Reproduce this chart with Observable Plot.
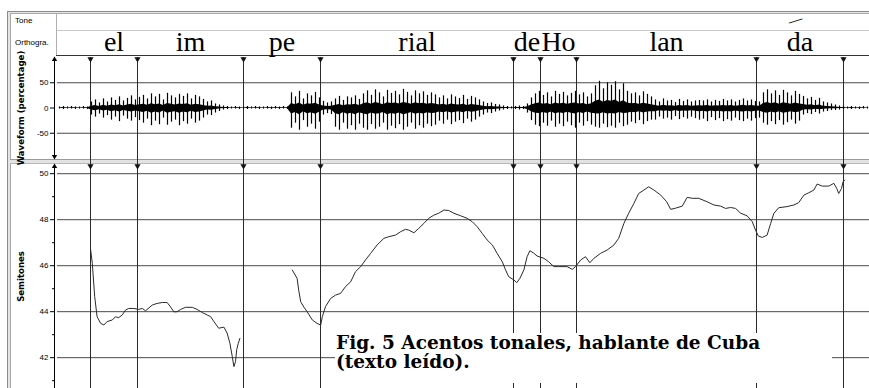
<!DOCTYPE html>
<html>
<head>
<meta charset="utf-8">
<script src="https://cdn.jsdelivr.net/npm/d3@7"></script>
<script src="https://cdn.jsdelivr.net/npm/@observablehq/plot@0.6"></script>
<style>
  body { margin: 0; background: #fff; }
  #wrap { position: relative; width: 869px; height: 388px; overflow: hidden; background: #fff; font-family: "Liberation Sans", Arial, sans-serif; }
  .abs { position: absolute; }
  .plotbox { position: absolute; left: 0; }
  .tierlabel { position: absolute; left: 15px; font-size: 8px; color: #000; }
  #caption { position: absolute; left: 335px; top: 333px; width: 497px; height: 50px; background: #fff;
             font-family: "DejaVu Serif", "Liberation Serif", serif; font-weight: bold; font-size: 18.5px; line-height: 19px; color: #000; white-space: nowrap; }
  #caption div { padding-left: 1px; }
</style>
</head>
<body>
<div id="wrap"></div>
<script>
// ---------------- data ----------------
const timeDomainMs = [0, 2030];
// segment boundaries (ms)
const boundariesMs = [82.5, 200, 465, 657.5, 1140, 1207.5, 1297.5, 1747.5, 1965];
// orthographic tier labels, one per interval between boundaries
const syllables = ["el", "im", "pe", "rial", "de", "Ho", "lan", "da"];
// tone tier: one rising mark
const toneMarksMs = [1840];
const tierNames = ["Tone", "Orthogra."];

// waveform ticks and gridlines (percentage)
const waveTicks = [50, 0, -50];
const waveGrid = [50, -50];
// pitch ticks (semitones)
const pitchTicks = [50, 48, 46, 44, 42];
const pitchMinorTicks = [49, 47, 45, 43, 41];

// waveform peak envelope, one bin every 10 ms
const waveBinMs = 10;
const waveMax = [
  2,3,2,3,2,2,3,2,
  12,16,10,
  18,12,20,15,22,14,19,24,16,21,
  25,18,28,22,27,16,29,24,20,27,23,28,18,25,22,
  17,12,14,8,6,4,
  3,2,3,2,2,3,2,3,2,2,3,2,3,2,3,2,
  30,22,33,18,28,24,31,20,
  13,10,12,
  18,23,15,22,20,24,17,
  28,34,25,36,30,22,35,29,33,26,37,31,24,34,28,32,25,30,
  26,20,24,18,26,22,19,25,17,23,20,16,
  12,9,10,7,6,4,
  3,2,3,4,3,
  8,20,28,33,25,30,22,33,27,31,24,29,33,26,30,22,28,
  44,53,38,50,45,52,36,48,
  33,28,30,24,32,27,22,
  16,12,18,14,15,11,17,13,16,12,14,15,
  14,16,12,15,13,17,14,16,12,15,18,14,16,13,12,
  30,36,28,34,25,35,30,24,33,27,
  23,18,21,15,19,12,10,8,
  6,4,3,
  2,3,2,2,3,2
];
const waveMin = [
  -2,-3,-2,-2,-3,-2,-2,-3,
  -14,-18,-12,
  -20,-15,-24,-18,-27,-16,-22,-26,-19,-25,
  -30,-22,-35,-26,-33,-20,-34,-28,-24,-35,-27,-32,-22,-30,-26,
  -20,-14,-15,-10,-7,-4,
  -3,-2,-2,-3,-2,-3,-2,-2,-3,-2,-2,-3,-2,-3,-2,-3,
  -40,-30,-44,-25,-38,-32,-42,-28,
  -14,-11,-13,
  -38,-44,-30,-42,-35,-44,-32,
  -40,-44,-33,-42,-38,-30,-44,-36,-41,-33,-44,-38,-30,-42,-35,-40,-32,-37,
  -34,-26,-32,-24,-33,-28,-25,-31,-22,-28,-24,-18,
  -14,-10,-11,-8,-6,-4,
  -3,-2,-3,-4,-3,
  -10,-25,-34,-37,-30,-36,-26,-38,-32,-37,-28,-35,-40,-30,-36,-27,-34,
  -38,-40,-32,-39,-36,-40,-30,-37,
  -34,-28,-31,-25,-33,-27,-24,
  -24,-18,-22,-20,-24,-17,-23,-19,-22,-18,-21,-24,
  -22,-27,-19,-25,-21,-27,-23,-26,-20,-25,-27,-22,-26,-21,-20,
  -30,-34,-27,-33,-25,-34,-29,-24,-32,-26,
  -14,-11,-13,-9,-12,-8,-7,-5,
  -5,-4,-3,
  -2,-3,-2,-3,-2,-2
];

// pitch contour [time ms, semitones], two voiced stretches
const pitchSegment1 = [
  [83,46.68],[87,46.1],[93,44.65],[99,43.78],[108,43.49],[116,43.42],[124,43.57],[137,43.64],[145,43.78],[153,43.74],
  [162,43.86],[170,44.07],[178,44.14],[191,44.14],[203,44.1],[212,44.14],[220,44.04],[237,44.29],[249,44.36],[262,44.4],
  [274,44.4],[283,44.2],[291,43.99],[299,44.0],[308,44.1],[320,44.19],[337,44.19],[349,44.1],[362,43.96],[374,43.86],
  [383,43.78],[391,43.57],[403,43.28],[416,43.33],[424,43.07],[431,42.63],[437,42.04],[441,41.61],[445,41.83],[448,42.35],
  [452,42.63],[456,42.84]
];
const pitchSegment2 = [
  [587,45.81],[599,45.45],[603,44.94],[608,44.43],[616,44.2],[624,44.0],[637,43.64],[649,43.49],[658,43.42],[662,43.78],
  [670,44.22],[683,44.58],[695,44.72],[708,44.8],[720,45.09],[733,45.3],[745,45.74],[758,45.96],[770,46.25],[783,46.54],
  [799,46.9],[816,47.19],[828,47.26],[845,47.33],[858,47.48],[870,47.58],[878,47.55],[891,47.43],[903,47.62],[916,47.84],
  [928,48.06],[941,48.2],[953,48.28],[966,48.42],[978,48.4],[991,48.28],[1008,48.17],[1024,48.06],[1037,47.91],[1049,47.7],
  [1062,47.4],[1074,47.12],[1087,46.9],[1099,46.54],[1112,46.17],[1120,45.82],[1128,45.52],[1141,45.38],[1148,45.26],[1156,45.45],
  [1166,45.82],[1174,46.39],[1181,46.65],[1191,46.54],[1199,46.42],[1216,46.32],[1228,46.17],[1241,45.96],[1253,45.96],[1274,45.96],
  [1287,45.84],[1295,45.96],[1308,46.25],[1320,46.39],[1331,46.13],[1341,46.32],[1358,46.54],[1374,46.68],[1391,46.9],[1403,47.19],
  [1416,47.84],[1428,48.28],[1441,48.71],[1453,49.14],[1466,49.29],[1478,49.43],[1491,49.29],[1508,49.07],[1523,48.78],[1533,48.45],
  [1545,48.5],[1562,48.59],[1574,48.97],[1587,48.93],[1603,48.93],[1624,48.78],[1641,48.64],[1658,48.59],[1670,48.49],[1683,48.53],
  [1695,48.49],[1708,48.28],[1724,48.17],[1737,47.91],[1745,47.55],[1752,47.29],[1762,47.23],[1774,47.33],[1783,47.84],[1791,48.28],
  [1803,48.52],[1824,48.57],[1841,48.64],[1853,48.74],[1866,49.07],[1878,49.17],[1891,49.29],[1899,49.55],[1912,49.46],[1928,49.46],
  [1941,49.58],[1948,49.36],[1953,49.14],[1960,49.36],[1964,49.65],[1968,49.72]
];

const captionLines = ["Fig. 5 Acentos tonales, hablante de Cuba", "(texto leído)."];

// ---------------- layout ----------------
const wrap = document.getElementById("wrap");
function addDiv(css) {
  const d = document.createElement("div");
  d.className = "abs";
  d.style.cssText = css;
  wrap.appendChild(d);
  return d;
}
// window frame (grey 3D borders)
addDiv("left:7px;top:11px;width:862px;height:377px;background:#e4e4e4;border-left:1px solid #8a8a8a;border-top:1px solid #8a8a8a;");
addDiv("left:10px;top:13px;width:859px;height:375px;background:#fff;border-left:1px solid #a8a8a8;border-top:1px solid #a8a8a8;");
// tier grid lines
addDiv("left:56px;top:13px;width:1px;height:43px;background:#b0b0b0;");
addDiv("left:57px;top:30px;width:812px;height:1px;background:#c8c8c8;");
addDiv("left:56px;top:55px;width:813px;height:1px;background:#333;");
// separator band between the two panels
addDiv("left:10px;top:159px;width:859px;height:3px;background:#e2e2e2;border-top:1px solid #9a9a9a;border-bottom:1px solid #b8b8b8;");
// tier names
tierNames.forEach((n, i) => {
  const d = document.createElement("div");
  d.className = "tierlabel";
  d.style.top = (i === 0 ? 16 : 38) + "px";
  d.textContent = n;
  wrap.appendChild(d);
});

const commonStyle = {background: "transparent", overflow: "visible", fontFamily: "Liberation Sans, Arial, sans-serif"};
const narrowFont = "Liberation Sans Narrow, DejaVu Sans Condensed, Arial Narrow, sans-serif";

// ---- tiers plot ----
const syllableData = syllables.map((s, i) => ({label: s, start: boundariesMs[i], end: boundariesMs[i + 1]}));
const tierPlot = Plot.plot({
  width: 869, height: 56, marginLeft: 57, marginRight: 0, marginTop: 0, marginBottom: 0,
  style: commonStyle,
  x: {domain: timeDomainMs, axis: null},
  marks: [
    Plot.text(syllableData, {x: d => (d.start + d.end) / 2, text: "label", frameAnchor: "bottom", lineAnchor: "bottom",
      dy: -6, fontSize: 28, fontFamily: "Liberation Serif, Times New Roman, serif", fill: "#000"}),
    Plot.text(toneMarksMs, {x: d => d, text: () => "\u2014", frameAnchor: "top", dy: 14, rotate: -18,
      fontSize: 14, fontFamily: "Liberation Serif, serif", fill: "#000"})
  ]
});
tierPlot.classList.add("plotbox");
tierPlot.style.top = "0px";
wrap.appendChild(tierPlot);

// ---- waveform plot ----
const waveData = waveMax.map((hi, i) => ({t: i * waveBinMs + waveBinMs / 2, hi, lo: waveMin[i]}));
const wavePlot = Plot.plot({
  width: 869, height: 103, marginLeft: 57, marginRight: 0, marginTop: 1, marginBottom: 1,
  style: commonStyle,
  x: {domain: timeDomainMs, axis: null},
  y: {domain: [-100, 100]},
  marks: [
    Plot.ruleY(waveGrid, {stroke: "#4a4a4a"}),
    Plot.ruleX(boundariesMs, {stroke: "#2a2a2a", insetBottom: -6}),
    Plot.dot(boundariesMs, {x: d => d, frameAnchor: "top", symbol: "triangle", rotate: 180, r: 2.3, fill: "#111", stroke: null, dy: 1.5}),
    Plot.areaY(waveData, {x: "t", y1: d => d.lo * 0.3, y2: d => d.hi * 0.3, fill: "#000"}),
    Plot.ruleX(waveData, {x: "t", y1: "lo", y2: "hi", stroke: "#000", strokeWidth: 1.2}),
    Plot.axisY(waveTicks, {tickSize: 5, tickPadding: 2, dx: -2, fontSize: 8, tickFormat: d => String(d), label: null, stroke: "#000", fill: "#000"}),
    Plot.ruleX([timeDomainMs[0]], {dx: -3, stroke: "#000"}),
    Plot.dot([timeDomainMs[0]], {x: d => d, frameAnchor: "top", symbol: "triangle", r: 2, dx: -3, dy: 2, fill: "#000", stroke: null}),
    Plot.dot([timeDomainMs[0]], {x: d => d, frameAnchor: "bottom", symbol: "triangle", rotate: 180, r: 2, dx: -3, dy: -2, fill: "#000", stroke: null}),
    Plot.text(["Waveform (percentage)"], {frameAnchor: "left", textAnchor: "middle", dx: -37, rotate: -90, fontWeight: "bold", fontSize: 9.5, fontFamily: narrowFont, fill: "#000"})
  ]
});
wavePlot.classList.add("plotbox");
wavePlot.style.top = "56px";
wrap.appendChild(wavePlot);

// ---- pitch plot ----
const toPts = seg => seg.map(([t, st]) => ({t, st}));
const pitchPlot = Plot.plot({
  width: 869, height: 225, marginLeft: 57, marginRight: 0, marginTop: 1, marginBottom: 0,
  style: commonStyle,
  x: {domain: timeDomainMs, axis: null},
  y: {domain: [40.66, 50.40]},
  marks: [
    Plot.ruleY(pitchTicks, {stroke: "#4a4a4a"}),
    Plot.ruleX(boundariesMs, {stroke: "#2a2a2a"}),
    Plot.dot(boundariesMs, {x: d => d, frameAnchor: "top", symbol: "triangle", rotate: 180, r: 2.3, fill: "#111", stroke: null, dy: 1.5}),
    Plot.line(toPts(pitchSegment1), {x: "t", y: "st", stroke: "#2a2a2a", strokeWidth: 1}),
    Plot.line(toPts(pitchSegment2), {x: "t", y: "st", stroke: "#2a2a2a", strokeWidth: 1}),
    Plot.axisY(pitchTicks, {tickSize: 5, tickPadding: 2, dx: -2, fontSize: 8, tickFormat: d => String(d), label: null, stroke: "#000", fill: "#000"}),
    Plot.axisY(pitchMinorTicks, {tickSize: 3, dx: -2, tickFormat: () => "", label: null, stroke: "#000"}),
    Plot.ruleX([timeDomainMs[0]], {dx: -3, stroke: "#000"}),
    Plot.dot([timeDomainMs[0]], {x: d => d, frameAnchor: "top", symbol: "triangle", r: 2, dx: -3, dy: 2, fill: "#000", stroke: null}),
    Plot.text(["Semitones"], {frameAnchor: "left", textAnchor: "middle", dx: -37, rotate: -90, fontWeight: "bold", fontSize: 9.5, fontFamily: narrowFont, fill: "#000"})
  ]
});
pitchPlot.classList.add("plotbox");
pitchPlot.style.top = "163px";
wrap.appendChild(pitchPlot);

// ---- caption ----
const cap = document.createElement("div");
cap.id = "caption";
captionLines.forEach(l => { const d = document.createElement("div"); d.textContent = l; cap.appendChild(d); });
wrap.appendChild(cap);
</script>
</body>
</html>
